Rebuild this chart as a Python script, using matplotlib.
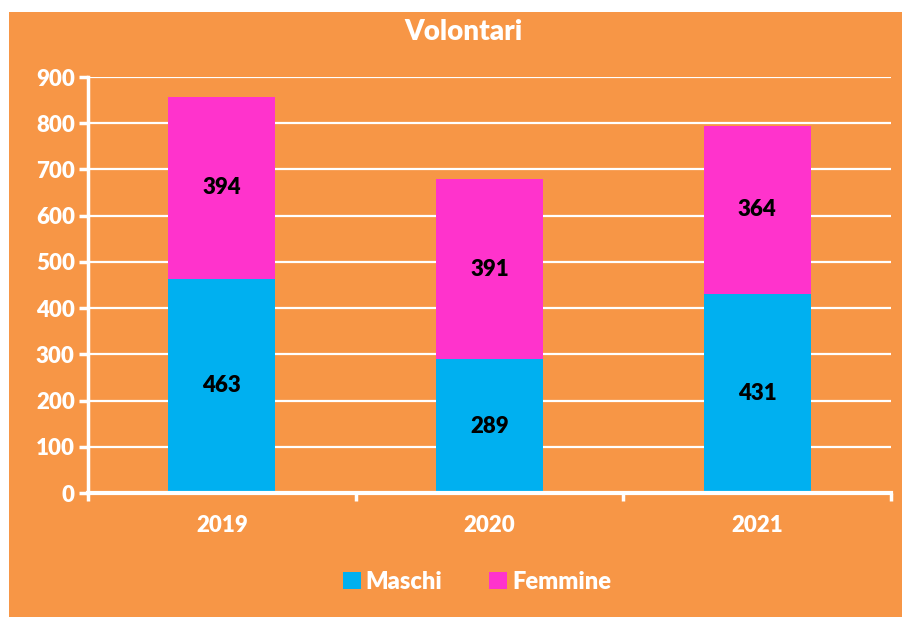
import numpy as np
import matplotlib.pyplot as plt
from matplotlib.patches import Rectangle

# dati
anni = ['2019', '2020', '2021']
maschi = [463, 289, 431]
femmine = [394, 391, 364]

arancio = '#F79646'
blu = '#00B0F0'
rosa = '#FF33CC'

plt.rcParams['font.family'] = ['Lato', 'DejaVu Sans']
plt.rcParams['font.weight'] = 'heavy'

fig = plt.figure(figsize=(9.03, 6.17), dpi=100, facecolor='white')
# sfondo arancione con margine bianco in alto e a sinistra
fig.add_artist(Rectangle((9/903, 0), 1, 1 - 12/617, transform=fig.transFigure,
                         facecolor=arancio, edgecolor='none', zorder=-10))

ax = fig.add_axes([88/903, 1 - 493/617, (891 - 88)/903, (493 - 77)/617])
ax.set_facecolor('none')

x = np.arange(len(anni))
b1 = ax.bar(x, maschi, width=0.4, color=blu, label='Maschi', zorder=3)
b2 = ax.bar(x, femmine, width=0.4, bottom=maschi, color=rosa, label='Femmine', zorder=3)
ax.bar_label(b1, label_type='center', fontsize=16, fontweight='heavy', color='black')
ax.bar_label(b2, label_type='center', fontsize=16, fontweight='heavy', color='black')

ax.set_xlim(-0.5, 2.5)
ax.set_ylim(0, 900)
ax.set_yticks(range(0, 901, 100))
ax.set_xticks(x)
ax.set_xticklabels(anni)
ax.set_xticks([-0.5, 0.5, 1.5, 2.5], minor=True)

ax.yaxis.grid(True, color='white', linewidth=1.6, zorder=1)
for s in ['top', 'right']:
    ax.spines[s].set_visible(False)
ax.spines['left'].set_color('white')
ax.spines['left'].set_linewidth(2.5)
ax.spines['bottom'].set_color('white')
ax.spines['bottom'].set_linewidth(3)
ax.spines['bottom'].set_zorder(4)

ax.tick_params(axis='y', colors='white', labelsize=16, length=6.5, width=2.5, pad=3)
ax.tick_params(axis='x', which='major', colors='white', labelsize=16, length=0, pad=16)
ax.tick_params(axis='x', which='minor', colors='white', length=6, width=2.5)
for lab in ax.get_xticklabels() + ax.get_yticklabels():
    lab.set_fontweight('heavy')

fig.text(0.513, 1 - 32/617, 'Volontari', ha='center', va='center',
         fontsize=20, fontweight='heavy', color='white')

leg = fig.legend(loc='center', bbox_to_anchor=(477/903, 1 - 582/617), ncol=2, frameon=False,
                 fontsize=17, handlelength=0.75, handleheight=0.75, handletextpad=0.2,
                 columnspacing=2.0)
for t in leg.get_texts():
    t.set_color('white')
    t.set_fontweight('heavy')

plt.savefig('out.png', dpi=100, facecolor='white')
